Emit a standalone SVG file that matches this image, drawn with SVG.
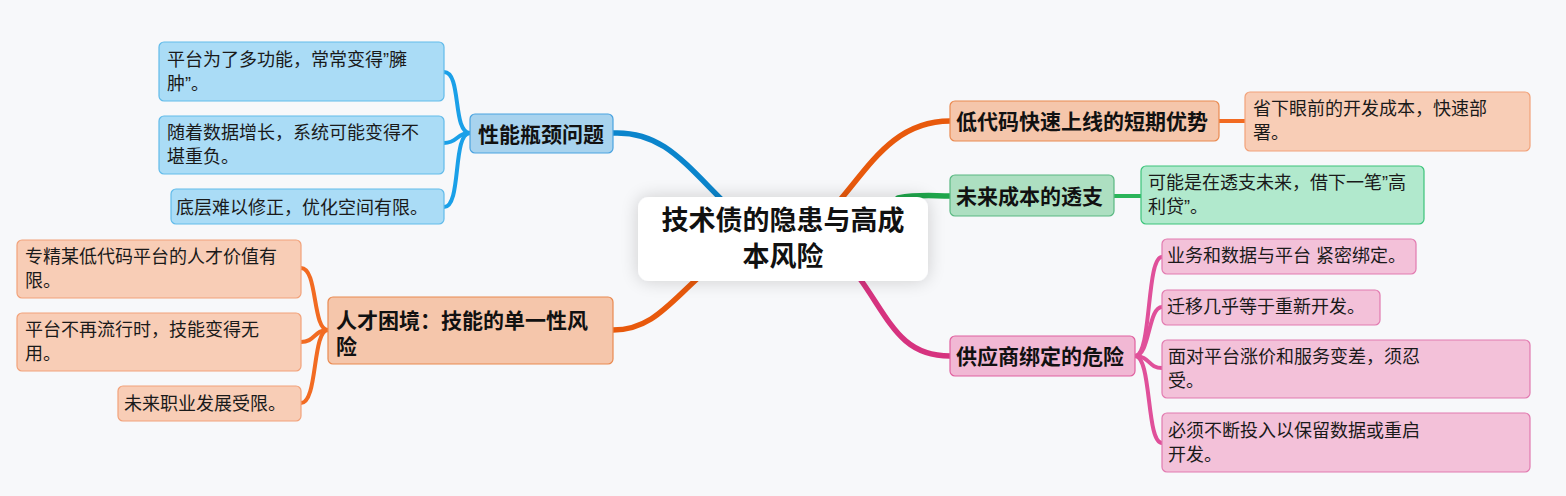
<svg xmlns="http://www.w3.org/2000/svg" width="1566" height="496" viewBox="0 0 1566 496">
<defs>
<filter id="sh" x="-30%" y="-50%" width="160%" height="200%">
<feGaussianBlur in="SourceAlpha" stdDeviation="9"/>
<feOffset dx="0" dy="0"/>
<feComponentTransfer><feFuncA type="linear" slope="0.18"/></feComponentTransfer>
<feMerge><feMergeNode/><feMergeNode in="SourceGraphic"/></feMerge>
</filter>
<style>
text{font-family:"Liberation Sans","Noto Sans CJK SC",sans-serif;fill:#1a1a1a;dominant-baseline:central}
.t{font-size:18px}
.b{font-size:21px;font-weight:700;fill:#111}
.c{font-size:27px;font-weight:700;fill:#111;text-anchor:middle}
.conn path{fill:none;stroke-linecap:round}
.bluep{fill:#a8d3ee;stroke:#4aa3e0;stroke-width:1.2}
.bluec{fill:#aadcf6;stroke:#62bbea;stroke-width:1.2}
.orp{fill:#f5c6ab;stroke:#ea8a50;stroke-width:1.2}
.orc{fill:#f8cdb6;stroke:#f2a27a;stroke-width:1.2}
.grp{fill:#addfc1;stroke:#5ab882;stroke-width:1.2}
.grc{fill:#b1e9cd;stroke:#3cc47a;stroke-width:1.2}
.pkp{fill:#f1b8d4;stroke:#e0609f;stroke-width:1.2}
.pkc{fill:#f3c1d9;stroke:#e27bb0;stroke-width:1.2}
</style>
</defs>
<rect width="1566" height="496" fill="#f7f8fa"/>
<g id="connectors" class="conn">
<path d="M613,133 C660,131 682,160 722,200" stroke="#0b85cc" stroke-width="5.5"/>
<path d="M613,330 C650,330 668,305 698,278" stroke="#e8590c" stroke-width="5.5"/>
<path d="M840,200 C870,165 895,121 950,121" stroke="#e8590c" stroke-width="5.5"/>
<path d="M898,198 C920,194 932,196 950,196" stroke="#1ea64b" stroke-width="5.5"/>
<path d="M858,276 C890,320 900,356 950,356" stroke="#d6337f" stroke-width="5.5"/>
<path d="M444,72 C462,72 452,133 470,133" stroke="#1aa0e8" stroke-width="4"/>
<path d="M444,143 C458,143 456,133 470,133" stroke="#1aa0e8" stroke-width="4"/>
<path d="M444,207 C462,207 452,133 470,133" stroke="#1aa0e8" stroke-width="4"/>
<path d="M301,268 C318,268 312,330 328,330" stroke="#f26b22" stroke-width="4"/>
<path d="M301,342 C315,342 314,330 328,330" stroke="#f26b22" stroke-width="4"/>
<path d="M301,403 C318,403 312,330 328,330" stroke="#f26b22" stroke-width="4"/>
<path d="M1219,121 L1245,121" stroke="#f26b22" stroke-width="4"/>
<path d="M1114,196 L1141,196" stroke="#2bb55a" stroke-width="4"/>
<path d="M1135,356 C1152,356 1146,257 1162,257" stroke="#e0509a" stroke-width="4"/>
<path d="M1135,356 C1150,356 1148,307 1162,307" stroke="#e0509a" stroke-width="4"/>
<path d="M1135,356 C1150,356 1148,368 1162,368" stroke="#e0509a" stroke-width="4"/>
<path d="M1135,356 C1152,356 1146,443 1162,443" stroke="#e0509a" stroke-width="4"/>
</g>
<g id="center">
<rect x="638" y="197" width="290" height="84" rx="11" fill="#ffffff" filter="url(#sh)"/>
<text class="c" x="783" y="221">技术债的隐患与高成</text>
<text class="c" x="783" y="257">本风险</text>
</g>
<g id="perf">
<rect class="bluep" x="470" y="114" width="143" height="39" rx="5"/>
<text class="b" x="478" y="134">性能瓶颈问题</text>
</g>
<g id="perf1">
<rect class="bluec" x="159" y="42" width="285" height="59" rx="5"/>
<text class="t" x="167" y="60">平台为了多功能，常常变得”臃</text>
<text class="t" x="167" y="84">肿”。</text>
</g>
<g id="perf2">
<rect class="bluec" x="159" y="116" width="285" height="58" rx="5"/>
<text class="t" x="167" y="133">随着数据增长，系统可能变得不</text>
<text class="t" x="167" y="157">堪重负。</text>
</g>
<g id="perf3">
<rect class="bluec" x="171" y="189" width="273" height="35" rx="5"/>
<text class="t" x="176" y="208">底层难以修正，优化空间有限。</text>
</g>
<g id="talent">
<rect class="orp" x="328" y="297" width="285" height="67" rx="5"/>
<text class="b" x="336" y="320">人才困境：技能的单一性风</text>
<text class="b" x="336" y="346">险</text>
</g>
<g id="talent1">
<rect class="orc" x="17" y="240" width="284" height="58" rx="5"/>
<text class="t" x="25" y="257">专精某低代码平台的人才价值有</text>
<text class="t" x="25" y="281">限。</text>
</g>
<g id="talent2">
<rect class="orc" x="17" y="313" width="284" height="58" rx="5"/>
<text class="t" x="25" y="330">平台不再流行时，技能变得无</text>
<text class="t" x="25" y="354">用。</text>
</g>
<g id="talent3">
<rect class="orc" x="118" y="386" width="183" height="35" rx="5"/>
<text class="t" x="124" y="404">未来职业发展受限。</text>
</g>
<g id="lowcode">
<rect class="orp" x="950" y="101" width="269" height="40" rx="5"/>
<text class="b" x="956" y="121">低代码快速上线的短期优势</text>
</g>
<g id="lowcode1">
<rect class="orc" x="1245" y="92" width="285" height="59" rx="5"/>
<text class="t" x="1253" y="109">省下眼前的开发成本，快速部</text>
<text class="t" x="1253" y="133">署。</text>
</g>
<g id="future">
<rect class="grp" x="950" y="175" width="164" height="41" rx="5"/>
<text class="b" x="956" y="196">未来成本的透支</text>
</g>
<g id="future1">
<rect class="grc" x="1141" y="166" width="283" height="58" rx="5"/>
<text class="t" x="1148" y="183">可能是在透支未来，借下一笔”高</text>
<text class="t" x="1148" y="207">利贷”。</text>
</g>
<g id="vendor">
<rect class="pkp" x="950" y="336" width="185" height="40" rx="5"/>
<text class="b" x="956" y="356">供应商绑定的危险</text>
</g>
<g id="vendor1">
<rect class="pkc" x="1162" y="239" width="254" height="35" rx="5"/>
<text class="t" x="1167" y="256">业务和数据与平台 紧密绑定。</text>
</g>
<g id="vendor2">
<rect class="pkc" x="1162" y="290" width="218" height="35" rx="5"/>
<text class="t" x="1167" y="307">迁移几乎等于重新开发。</text>
</g>
<g id="vendor3">
<rect class="pkc" x="1162" y="340" width="368" height="58" rx="5"/>
<text class="t" x="1168" y="357">面对平台涨价和服务变差，须忍</text>
<text class="t" x="1168" y="381">受。</text>
</g>
<g id="vendor4">
<rect class="pkc" x="1162" y="413" width="368" height="59" rx="5"/>
<text class="t" x="1168" y="431">必须不断投入以保留数据或重启</text>
<text class="t" x="1168" y="455">开发。</text>
</g>
</svg>
